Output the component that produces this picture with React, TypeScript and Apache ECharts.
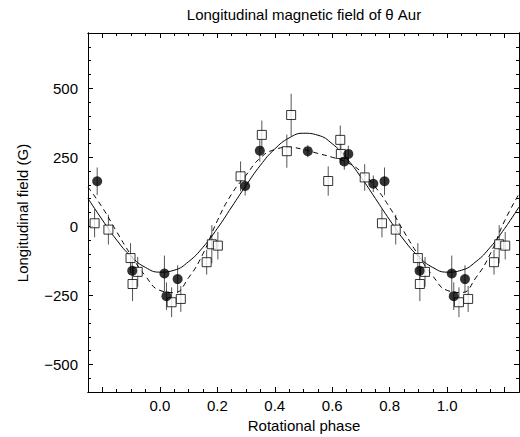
import React, { useEffect, useRef } from "react";
import * as echarts from "echarts";

// Base observations within one rotational period (phase in [0,1))
const CIRCLE_PHASE = [0.016, 0.023, 0.062, 0.297, 0.348, 0.515, 0.642, 0.656, 0.743, 0.782, 0.904];
const CIRCLE_FIELD = [-171, -253, -191, 146, 274, 272, 235, 262, 154, 163, -161];
const CIRCLE_ERR = [65, 50, 50, 35, 40, 22, 30, 30, 30, 50, 54];

const SQUARE_PHASE = [0.041, 0.073, 0.163, 0.181, 0.202, 0.281, 0.355, 0.442, 0.457, 0.586, 0.628, 0.63, 0.713, 0.773, 0.821, 0.898, 0.923, 0.905];
const SQUARE_FIELD = [-275, -263, -130, -65, -70, 181, 331, 272, 403, 164, 313, 262, 177, 11, -12, -115, -165, -209];
const SQUARE_ERR = [54, 47, 45, 69, 50, 54, 52, 60, 77, 53, 52, 40, 48, 51, 54, 54, 54, 62];

// Fitted curves, read at phase steps of 0.05
const CURVE_PHASE = [0, 0.05, 0.1, 0.15, 0.2, 0.25, 0.3, 0.35, 0.4, 0.45, 0.5, 0.55, 0.6, 0.65, 0.7, 0.75, 0.8, 0.85, 0.9, 0.95];
const SINE_FIT = [-166, -159, -128, -76, -8, 70, 148, 221, 280, 320, 337, 330, 299, 246, 178, 101, 23, -50, -109, -149];
const DASHED_FIT = [-232, -240, -186, -100, 20, 117, 185, 248, 278, 286, 278, 264, 250, 232, 198, 142, 68, -20, -105, -180];

const X_LABELS = [0, 0.2, 0.4, 0.6, 0.8, 1.0];
const X_MAJOR_TICKS = [-0.2, 0, 0.2, 0.4, 0.6, 0.8, 1.0, 1.2];
const Y_LABELS = [-500, -250, 0, 250, 500];

const X_MIN = -0.25;
const X_MAX = 1.25;
const Y_MIN = -600;
const Y_MAX = 700;

const TITLE = "Longitudinal magnetic field of θ Aur";
const X_NAME = "Rotational phase";
const Y_NAME = "Longitudinal field (G)";

const FONT = "'Liberation Sans', Arial, Helvetica, sans-serif";

function inRange(x: number) {
  return x >= X_MIN - 1e-9 && x <= X_MAX + 1e-9;
}

function periodicPoints(phases: number[], values: number[]) {
  const out: number[][] = [];
  for (const k of [-1, 0, 1]) {
    phases.forEach((p, i) => {
      const x = +(p + k).toFixed(4);
      if (inRange(x)) out.push([x, values[i]]);
    });
  }
  return out;
}

function periodicErrors(phases: number[], values: number[], errs: number[]) {
  const out: number[][] = [];
  for (const k of [-1, 0, 1]) {
    phases.forEach((p, i) => {
      const x = +(p + k).toFixed(4);
      if (inRange(x)) out.push([x, values[i] - errs[i], values[i] + errs[i]]);
    });
  }
  return out;
}

const minusFmt = (v: number) => String(v).replace("-", "\u2212");

function errorBarSeries(data: number[][], z: number) {
  return {
    type: "custom",
    xAxisIndex: 0,
    yAxisIndex: 0,
    silent: true,
    clip: true,
    z,
    encode: { x: 0, y: [1, 2] },
    data,
    renderItem: (_params: any, api: any) => {
      const p1 = api.coord([api.value(0), api.value(1)]);
      const p2 = api.coord([api.value(0), api.value(2)]);
      return {
        type: "line",
        shape: { x1: p1[0], y1: p1[1], x2: p2[0], y2: p2[1] },
        style: { stroke: "#555", lineWidth: 1 },
      };
    },
  };
}

export default function App() {
  const ref = useRef<HTMLDivElement>(null);

  useEffect(() => {
    if (!ref.current) return;
    const chart = echarts.init(ref.current, null, { renderer: "svg" });

    const axisLine = { show: true, onZero: false, lineStyle: { color: "#000", width: 1 } };
    const labelStyle = { color: "#000", fontSize: 15, fontFamily: FONT };

    const xMajor = (position: string, labels: boolean) => ({
      type: "value",
      position,
      min: X_MIN,
      max: X_MAX,
      axisLine,
      splitLine: { show: false },
      axisTick: {
        show: true,
        inside: true,
        length: 5,
        customValues: X_MAJOR_TICKS,
        lineStyle: { color: "#000", width: 1 },
      },
      axisLabel: labels
        ? { show: true, customValues: X_LABELS, margin: 6, formatter: (v: number) => v.toFixed(1), ...labelStyle }
        : { show: false },
    });
    const xMinor = (position: string) => ({
      type: "value",
      position,
      min: X_MIN,
      max: X_MAX,
      interval: 0.05,
      axisLine,
      splitLine: { show: false },
      axisTick: { show: true, inside: true, length: 3, lineStyle: { color: "#000", width: 1 } },
      axisLabel: { show: false },
    });
    const yMajor = (position: string, labels: boolean) => ({
      type: "value",
      position,
      min: Y_MIN,
      max: Y_MAX,
      axisLine,
      splitLine: { show: false },
      axisTick: {
        show: true,
        inside: true,
        length: 5,
        customValues: Y_LABELS,
        lineStyle: { color: "#000", width: 1 },
      },
      axisLabel: labels
        ? { show: true, customValues: Y_LABELS, margin: 10, formatter: minusFmt, ...labelStyle }
        : { show: false },
    });
    const yMinor = (position: string) => ({
      type: "value",
      position,
      min: Y_MIN,
      max: Y_MAX,
      interval: 50,
      axisLine,
      splitLine: { show: false },
      axisTick: { show: true, inside: true, length: 3, lineStyle: { color: "#000", width: 1 } },
      axisLabel: { show: false },
    });

    const option: any = {
      animation: false,
      backgroundColor: "#fff",
      grid: { left: 88, right: 1, top: 33, bottom: 45, containLabel: false, outerBoundsMode: "none" },
      xAxis: [xMajor("bottom", true), xMinor("bottom"), xMajor("top", false), xMinor("top")],
      yAxis: [yMajor("left", true), yMinor("left"), yMajor("right", false), yMinor("right")],
      graphic: [
        {
          type: "text",
          x: 304,
          y: 14,
          silent: true,
          style: { text: TITLE, fill: "#000", fontSize: 15, fontFamily: FONT, align: "center", verticalAlign: "middle" },
        },
        {
          type: "text",
          x: 304,
          y: 425,
          silent: true,
          style: { text: X_NAME, fill: "#000", fontSize: 15, fontFamily: FONT, align: "center", verticalAlign: "middle" },
        },
        {
          type: "text",
          x: 22,
          y: 213,
          rotation: Math.PI / 2,
          silent: true,
          style: { text: Y_NAME, fill: "#000", fontSize: 15, fontFamily: FONT, align: "center", verticalAlign: "middle" },
        },
      ],
      series: [
        errorBarSeries(periodicErrors(SQUARE_PHASE, SQUARE_FIELD, SQUARE_ERR), 1),
        errorBarSeries(periodicErrors(CIRCLE_PHASE, CIRCLE_FIELD, CIRCLE_ERR), 1),
        {
          type: "line",
          xAxisIndex: 0,
          yAxisIndex: 0,
          data: periodicPoints(CURVE_PHASE, SINE_FIT),
          smooth: true,
          symbol: "none",
          showSymbol: false,
          silent: true,
          z: 2,
          lineStyle: { color: "#000", width: 1 },
        },
        {
          type: "line",
          xAxisIndex: 0,
          yAxisIndex: 0,
          data: periodicPoints(CURVE_PHASE, DASHED_FIT),
          smooth: true,
          symbol: "none",
          showSymbol: false,
          silent: true,
          z: 2,
          lineStyle: { color: "#000", width: 1, type: [5, 4] },
        },
        {
          type: "scatter",
          xAxisIndex: 0,
          yAxisIndex: 0,
          data: periodicPoints(SQUARE_PHASE, SQUARE_FIELD),
          symbol: "rect",
          symbolSize: 9,
          silent: true,
          z: 3,
          itemStyle: { color: "#fff", borderColor: "#000", borderWidth: 1 },
        },
        {
          type: "scatter",
          xAxisIndex: 0,
          yAxisIndex: 0,
          data: periodicPoints(CIRCLE_PHASE, CIRCLE_FIELD),
          symbol: "circle",
          symbolSize: 10,
          silent: true,
          z: 4,
          itemStyle: { color: "#000" },
        },
      ],
    };

    chart.setOption(option);
    return () => chart.dispose();
  }, []);

  return (
    <div
      ref={ref}
      style={{ position: "absolute", left: 0, top: 0, width: 520, height: 437, background: "#fff" }}
    />
  );
}
